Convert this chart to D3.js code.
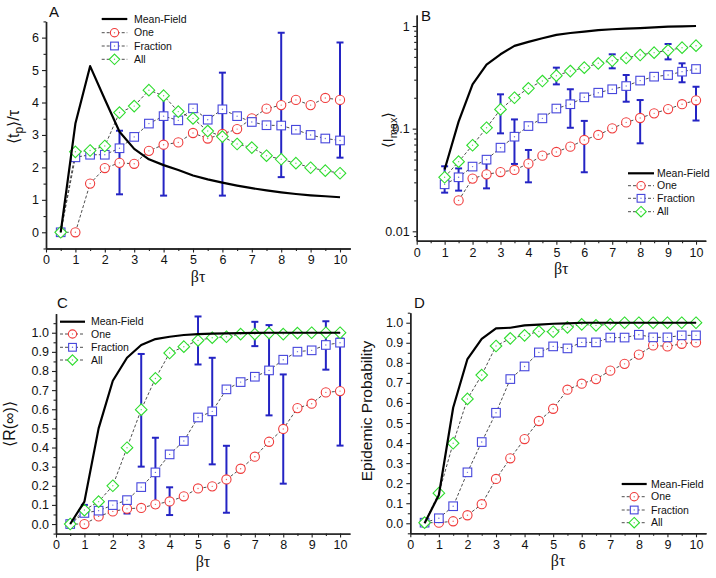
<!DOCTYPE html>
<html><head><meta charset="utf-8">
<script src="https://cdn.jsdelivr.net/npm/d3@7"></script>
<style>body{margin:0;background:#fff}svg{display:block;font-family:"Liberation Sans",Arial,sans-serif}</style>
</head><body><svg id="c" width="716" height="578"></svg>
<script>
// ---- shared x values ----
const betaTau   = [0.5,1,1.5,2,2.5,3,3.5,4,4.5,5,5.5,6,6.5,7,7.5,8,8.5,9,9.5,10];
const betaTauB  = [1,1.5,2,2.5,3,3.5,4,4.5,5,5.5,6,6.5,7,7.5,8,8.5,9,9.5,10];
const betaTauB1 = [1.5,2,2.5,3,3.5,4,4.5,5,5.5,6,6.5,7,7.5,8,8.5,9,9.5,10];
const xTickLabels = [0,1,2,3,4,5,6,7,8,9,10];
const seriesNames = ["Mean-Field","One","Fraction","All"];

// ---- Panel A: <t_p>/tau ----
const A_meanField = [0,3.35,5.12,4.1,3.1,2.57,2.25,2.07,1.92,1.75,1.63,1.53,1.44,1.36,1.29,1.23,1.18,1.14,1.11,1.08];
const A_one       = [0,0,1.5,1.98,2.14,2.11,2.51,2.7,2.77,3.06,2.89,3.03,3.18,3.51,3.81,3.92,4.08,3.92,4.14,4.08];
const A_fraction  = [0,2.31,2.39,2.39,2.59,2.94,3.35,3.58,3.45,3.82,3.47,3.79,3.58,3.4,3.3,3.29,3.16,3.0,2.89,2.83];
const A_all       = [0,2.48,2.52,2.66,3.69,3.89,4.38,4.21,3.72,3.51,3.12,2.95,2.72,2.61,2.36,2.25,2.13,1.99,1.9,1.82];
const A_errX  = [2.5,4,6,8,10];
const A_errLo = [1.17,1.13,1.13,1.70,2.30];
const A_errHi = [3.13,4.15,4.92,6.15,5.85];
const A_yTicks = [0,1,2,3,4,5,6];

// ---- Panel B: <I_max> (log) ----
const B_meanField = [0.04,0.117,0.27,0.42,0.53,0.64,0.70,0.76,0.82,0.855,0.88,0.91,0.93,0.945,0.955,0.97,0.985,0.99,1.0];
const B_one       = [0.020,0.0326,0.0359,0.0378,0.0396,0.0456,0.0546,0.0593,0.0668,0.0776,0.0868,0.1007,0.115,0.127,0.141,0.155,0.173,0.189];
const B_fraction  = [0.0287,0.0336,0.0427,0.0499,0.0653,0.0835,0.106,0.126,0.157,0.173,0.202,0.224,0.242,0.26,0.294,0.321,0.333,0.359,0.381];
const B_all       = [0.0336,0.0477,0.0689,0.102,0.154,0.200,0.247,0.291,0.328,0.364,0.393,0.433,0.459,0.488,0.522,0.55,0.579,0.615,0.643];
const B_errX  = [1,1.5,2.5,3,3.5,4,5,5.5,6,7,7.5,8,9,9.5,10];
const B_errLo = [0.0238,0.0249,0.0262,0.090,0.0453,0.030,0.270,0.102,0.0376,0.387,0.183,0.072,0.473,0.283,0.12];
const B_errHi = [0.043,0.041,0.046,0.216,0.123,0.062,0.393,0.242,0.119,0.53,0.333,0.19,0.668,0.433,0.256];
const B_yTicks = [0.01,0.1,1];
const B_yTickLabels = ["0.01","0.1","1"];

// ---- Panel C: <R(inf)> ----
const C_meanField = [0,0.117,0.5,0.749,0.869,0.936,0.967,0.979,0.988,0.993,0.995,0.997,0.998,0.999,1,1,1,1,1,1];
const C_one       = [0,0,0.04,0.066,0.08,0.084,0.103,0.118,0.145,0.186,0.197,0.233,0.289,0.352,0.43,0.497,0.606,0.629,0.688,0.695];
const C_fraction  = [0,0.058,0.07,0.099,0.125,0.193,0.27,0.364,0.434,0.557,0.589,0.704,0.742,0.77,0.803,0.859,0.901,0.908,0.936,0.948];
const C_all       = [0,0.073,0.117,0.2,0.399,0.598,0.761,0.894,0.927,0.96,0.974,0.979,0.993,0.993,0.998,0.993,0.998,1,1,1];
const C_errX  = [1,2.5,3,3.5,4,5,5.5,6,7,7.5,8,9.5,10];
const C_errLo = [0.05,0.055,0.30,0.091,0.047,0.834,0.312,0.059,0.93,0.568,0.211,0.807,0.41];
const C_errHi = [0.10,0.105,0.889,0.451,0.192,1.085,0.869,0.409,1.057,1.04,0.782,1.06,0.97];
const C_yTicks = [0,0.1,0.2,0.3,0.4,0.5,0.6,0.7,0.8,0.9,1.0];

// ---- Panel D: Epidemic Probability ----
const D_meanField = [0,0.141,0.576,0.819,0.919,0.972,0.975,0.987,0.991,0.995,0.997,1,1,1,1,1,1,1,1,1];
const D_one       = [0.003,0.003,0.01,0.04,0.095,0.221,0.324,0.42,0.51,0.571,0.666,0.696,0.719,0.761,0.795,0.841,0.887,0.882,0.895,0.902];
const D_fraction  = [0.003,0.025,0.085,0.254,0.405,0.551,0.719,0.782,0.852,0.882,0.872,0.902,0.902,0.926,0.926,0.94,0.927,0.927,0.937,0.937];
const D_all       = [0.003,0.15,0.399,0.62,0.739,0.884,0.922,0.937,0.957,0.955,0.977,0.992,0.987,0.992,1,1,1,1,1,1];
const D_yTicks = C_yTicks;

// ---- styling ----
const RED = "#f03c3c", BLUE = "#4646dc", GREEN = "#2edc2e", ERR = "#2424c4", DASH = "#3a3a3a";
const svg = d3.select("#c");

function drawPanel(p) {
  const g = svg.append("g");
  const x = d3.scaleLinear().domain([0, 10.35]).range([p.left, p.right]);
  const y = (p.log ? d3.scaleLog() : d3.scaleLinear()).domain(p.yDomain).range([p.bottom, p.top]);

  // axes
  const xAx = g.append("g").attr("transform", `translate(0,${p.bottom})`)
    .call(d3.axisBottom(x).tickValues(xTickLabels).tickSize(4).tickSizeOuter(0).tickPadding(3).tickFormat(d3.format("d")));
  const xMin = g.append("g").attr("transform", `translate(0,${p.bottom})`)
    .call(d3.axisBottom(x).tickValues(d3.range(0.5, 10.4, 1)).tickSize(2.5).tickSizeOuter(0).tickFormat(""));
  const yAx = g.append("g").attr("transform", `translate(${p.left},0)`)
    .call(d3.axisLeft(y).tickValues(p.yTicks).tickSize(4).tickSizeOuter(0).tickPadding(3)
      .tickFormat(p.yFormat));
  const yMin = g.append("g").attr("transform", `translate(${p.left},0)`)
    .call(d3.axisLeft(y).tickValues(p.yMinor).tickSize(2.5).tickSizeOuter(0).tickFormat(""));
  [xAx, xMin, yAx, yMin].forEach(a => {
    a.select(".domain").attr("stroke", "#222").attr("stroke-width", 1.4);
    a.selectAll(".tick line").attr("stroke", "#222").attr("stroke-width", 1.1);
    a.selectAll(".tick text").attr("font-size", 12.5).attr("fill", "#111")
      .attr("font-family", '"Liberation Sans",Arial,sans-serif');
  });

  // axis titles
  g.append("text").attr("x", (p.left + p.right) / 2).attr("y", p.bottom + 33)
    .attr("text-anchor", "middle").attr("font-size", 16).attr("font-family", '"Liberation Serif","DejaVu Serif",serif')
    .attr("fill", "#111").text("βτ");
  const yt = g.append("text").attr("transform", `translate(${p.ytX},${p.ytY}) rotate(-90)`)
    .attr("text-anchor", "middle").attr("font-size", p.ytSize).attr("fill", "#111");
  p.yTitle(yt);

  // panel letter
  g.append("text").attr("x", p.labX).attr("y", p.labY).attr("font-size", 15).attr("fill", "#111").text(p.label);

  const series = [
    {x: p.xOne, v: p.one, col: RED, sym: "circle"},
    {x: p.xFrac, v: p.frac, col: BLUE, sym: "square"},
    {x: p.xAll, v: p.all, col: GREEN, sym: "diamond"}
  ];
  const line = d3.line().x(d => x(d[0])).y(d => y(d[1]));

  // dashed connecting lines
  series.forEach(s => {
    g.append("path").datum(s.x.map((xv, i) => [xv, s.v[i]]))
      .attr("d", line).attr("fill", "none").attr("stroke", DASH).attr("stroke-width", 0.9)
      .attr("stroke-dasharray", "3,2");
  });

  // error bars
  const eb = g.append("g").attr("stroke", ERR).attr("stroke-width", 2);
  p.errX.forEach((xv, i) => {
    const cx = x(xv), y1 = y(p.errLo[i]), y2 = y(p.errHi[i]);
    eb.append("line").attr("x1", cx).attr("x2", cx).attr("y1", y1).attr("y2", y2);
    eb.append("line").attr("x1", cx - 3.5).attr("x2", cx + 3.5).attr("y1", y1).attr("y2", y1);
    eb.append("line").attr("x1", cx - 3.5).attr("x2", cx + 3.5).attr("y1", y2).attr("y2", y2);
  });

  // markers
  function marker(sel, sym, col, cx, cy, sc) {
    sc = sc || 1;
    let m;
    if (sym === "circle") m = sel.append("circle").attr("cx", cx).attr("cy", cy).attr("r", 4.6 * sc);
    else if (sym === "square") m = sel.append("rect").attr("x", cx - 4.3 * sc).attr("y", cy - 4.3 * sc).attr("width", 8.6 * sc).attr("height", 8.6 * sc);
    else { const r = 5.8 * sc; m = sel.append("path").attr("d", `M${cx},${cy - r}L${cx + r},${cy}L${cx},${cy + r}L${cx - r},${cy}Z`); }
    m.attr("fill", "#fff").attr("stroke", col).attr("stroke-width", 1.1);
    sel.append("circle").attr("cx", cx).attr("cy", cy).attr("r", 0.7).attr("fill", col).attr("opacity", 0.8);
  }
  series.forEach(s => {
    const mg = g.append("g");
    s.x.forEach((xv, i) => marker(mg, s.sym, s.col, x(xv), y(s.v[i])));
  });

  // mean-field
  g.append("path").datum(p.xMF.map((xv, i) => [xv, p.mf[i]]))
    .attr("d", line).attr("fill", "none").attr("stroke", "#000").attr("stroke-width", 2.2)
    .attr("stroke-linejoin", "round");

  // legend
  const L = p.legend;
  const lg = g.append("g");
  seriesNames.forEach((name, i) => {
    const yy = L.rows[i];
    if (i === 0) {
      lg.append("line").attr("x1", L.x0).attr("x2", L.x1).attr("y1", yy).attr("y2", yy)
        .attr("stroke", "#000").attr("stroke-width", 2.2);
    } else {
      lg.append("line").attr("x1", L.x0).attr("x2", L.x1).attr("y1", yy).attr("y2", yy)
        .attr("stroke", DASH).attr("stroke-width", 0.9).attr("stroke-dasharray", "3,2");
      const s = series[i - 1];
      marker(lg, s.sym, s.col, (L.x0 + L.x1) / 2, yy, 0.9);
    }
    lg.append("text").attr("x", L.tx).attr("y", yy).attr("dy", "0.36em")
      .attr("font-size", 10.5).attr("fill", "#111").text(name);
  });
}

const f1 = d3.format(".1f");

drawPanel({
  label: "A", labX: 49, labY: 17,
  left: 46, right: 350.3, top: 21.4, bottom: 248.5, yDomain: [-0.5, 6.5],
  yTicks: A_yTicks, yFormat: d3.format("d"), yMinor: d3.range(-0.5, 6.6, 1),
  ytX: 19, ytY: 127, ytSize: 16,
  yTitle: t => { t.append("tspan").text("⟨t"); t.append("tspan").attr("font-size", 12).attr("dy", 4).text("p");
                 t.append("tspan").attr("dy", -4).text("⟩/τ"); },
  xMF: betaTau, mf: A_meanField, xOne: betaTau, one: A_one, xFrac: betaTau, frac: A_fraction, xAll: betaTau, all: A_all,
  errX: A_errX, errLo: A_errLo, errHi: A_errHi,
  legend: {x0: 101.7, x1: 127.3, tx: 134, rows: [19, 32.7, 46, 59.3]}
});

drawPanel({
  label: "B", labX: 421, labY: 21,
  left: 416.7, right: 705.8, top: 15, bottom: 240.7, yDomain: [0.0081, 1.28], log: true,
  yTicks: B_yTicks, yFormat: (d, i) => B_yTickLabels[i],
  yMinor: [0.009,0.02,0.03,0.04,0.05,0.06,0.07,0.08,0.09,0.2,0.3,0.4,0.5,0.6,0.7,0.8,0.9],
  ytX: 393, ytY: 130, ytSize: 15,
  yTitle: t => { t.append("tspan").text("⟨I"); t.append("tspan").attr("font-size", 11).attr("dy", 4).text("max");
                 t.append("tspan").attr("dy", -4).text("⟩"); },
  xMF: betaTauB, mf: B_meanField, xOne: betaTauB1, one: B_one, xFrac: betaTauB, frac: B_fraction, xAll: betaTauB, all: B_all,
  errX: B_errX, errLo: B_errLo, errHi: B_errHi,
  legend: {x0: 628, x1: 654, tx: 657, rows: [173.3, 185.7, 198.3, 211.7]}
});

drawPanel({
  label: "C", labX: 57, labY: 308,
  left: 56, right: 350, top: 313.6, bottom: 533.6, yDomain: [-0.05, 1.1],
  yTicks: C_yTicks, yFormat: f1, yMinor: d3.range(0, 23).map(i => -0.05 + i * 0.1).filter(v => v <= 1.1),
  ytX: 15, ytY: 424, ytSize: 16,
  yTitle: t => t.text("⟨R(∞)⟩"),
  xMF: betaTau, mf: C_meanField, xOne: betaTau, one: C_one, xFrac: betaTau, frac: C_fraction, xAll: betaTau, all: C_all,
  errX: C_errX, errLo: C_errLo, errHi: C_errHi,
  legend: {x0: 60, x1: 85, tx: 91, rows: [321.7, 334, 347.3, 360]}
});

drawPanel({
  label: "D", labX: 414, labY: 308,
  left: 410.3, right: 706, top: 312.7, bottom: 533.3, yDomain: [-0.05, 1.05],
  yTicks: D_yTicks, yFormat: f1, yMinor: d3.range(0, 23).map(i => -0.05 + i * 0.1).filter(v => v <= 1.06),
  ytX: 372, ytY: 411, ytSize: 15.5,
  yTitle: t => t.text("Epidemic Probability"),
  xMF: betaTau, mf: D_meanField, xOne: betaTau, one: D_one, xFrac: betaTau, frac: D_fraction, xAll: betaTau, all: D_all,
  errX: [], errLo: [], errHi: [],
  legend: {x0: 621.7, x1: 646.7, tx: 651, rows: [484, 496.7, 510, 522.7]}
});
</script></body></html>
